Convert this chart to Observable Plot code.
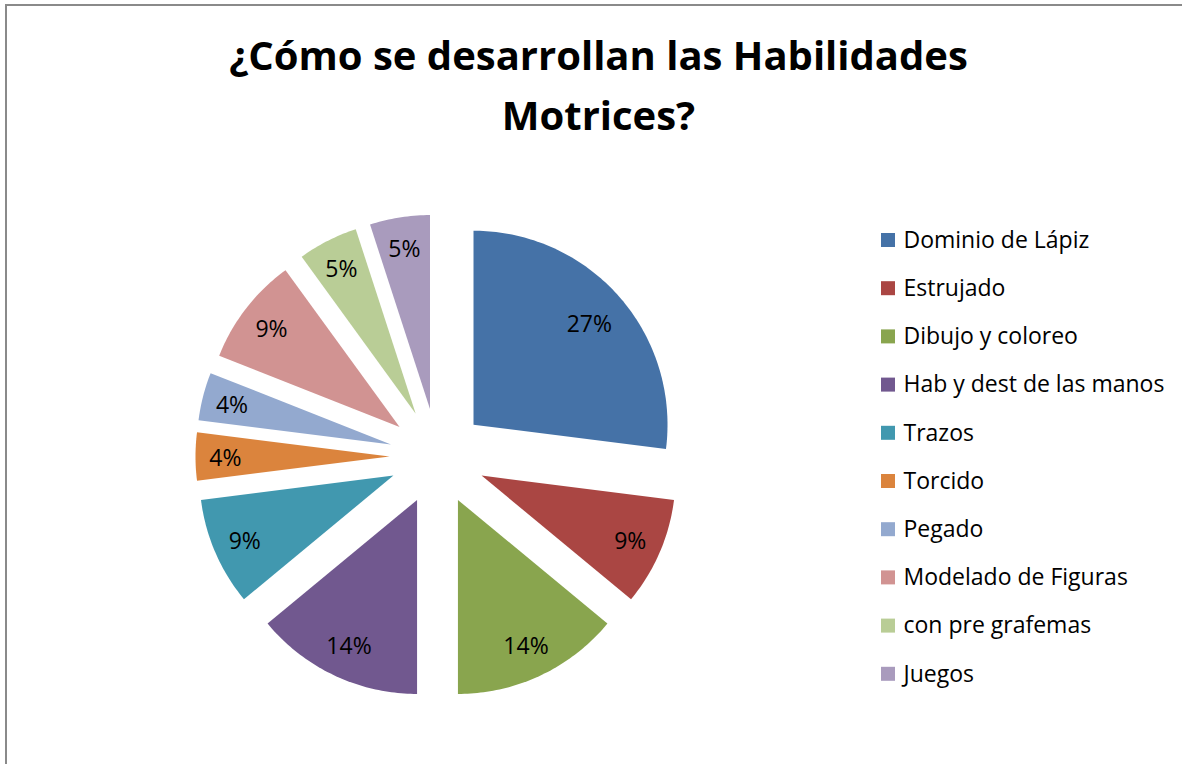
<!DOCTYPE html>
<html>
<head>
<meta charset="utf-8">
<script src="https://cdn.jsdelivr.net/npm/d3@7"></script>
<script src="https://cdn.jsdelivr.net/npm/@observablehq/plot@0.6"></script>
<style>
  html, body { margin: 0; padding: 0; background: #fff; }
  #wrap { position: relative; width: 1182px; height: 764px; overflow: hidden; }
  #border { position: absolute; left: 5px; top: 4px; width: 1300px; height: 900px;
            border-left: 2px solid #8a8a8a; border-top: 2px solid #8a8a8a; box-sizing: border-box; }
  #chart { position: absolute; left: 0; top: 0; }
</style>
</head>
<body>
<div id="wrap"><div id="border"></div><div id="chart"></div></div>
<script>
// ---- data ----
const categories = ["Dominio de Lápiz", "Estrujado", "Dibujo y coloreo", "Hab y dest de las manos", "Trazos", "Torcido", "Pegado", "Modelado de Figuras", "con pre grafemas", "Juegos"];
const values = [27, 9, 14, 14, 9, 4, 4, 9, 5, 5];
const colors = ["#4572A7", "#AA4643", "#89A54E", "#71588F", "#4198AF", "#DB843D", "#93A9CF", "#D19392", "#B9CD96", "#A99BBD"];
const titleLines = ["¿Cómo se desarrollan las Habilidades", "Motrices?"];

// ---- layout ----
const W = 1182, H = 764;
const cx = 437, cy = 456, R = 194, explode = 48;
const font = "'Open Sans', sans-serif";
const total = d3.sum(values);

const arcs = d3.pie().sort(null).value(d => d)(values);
const slices = [];
const labels = [];
arcs.forEach((a, i) => {
  const mid = (a.startAngle + a.endAngle) / 2;
  const ax = cx + explode * Math.sin(mid), ay = cy - explode * Math.cos(mid);
  const cat = categories[i];
  slices.push({cat, x: ax, y: ay});
  const n = Math.max(8, Math.ceil((a.endAngle - a.startAngle) * 60));
  for (let k = 0; k <= n; k++) {
    const t = a.startAngle + (a.endAngle - a.startAngle) * k / n;
    slices.push({cat, x: ax + R * Math.sin(t), y: ay - R * Math.cos(t)});
  }
  const lr = R * (0.855 - 0.22 * values[i] / total);
  labels.push({cat, text: values[i] + "%", x: ax + lr * Math.sin(mid), y: ay - lr * Math.cos(mid) + 2});
});

const legendRows = categories.map((cat, i) => ({cat, i, y: 240 + i * 48.2}));
const titleRows = titleLines.map((t, i) => ({t, y: 57 + i * 60}));

const chart = Plot.plot({
  width: W, height: H,
  margin: 0,
  x: {domain: [0, W], range: [0, W], axis: null},
  y: {domain: [0, H], range: [0, H], axis: null},
  color: {domain: categories, range: colors},
  style: {fontFamily: font, background: "transparent"},
  marks: [
    Plot.line(slices, {x: "x", y: "y", z: "cat", fill: "cat", stroke: null}),
    Plot.text(labels, {x: "x", y: "y", text: "text", fontSize: 23, fill: "#000"}),
    Plot.rect(legendRows, {x1: 881, x2: 895, y1: d => d.y - 7, y2: d => d.y + 7, fill: "cat"}),
    Plot.text(legendRows, {x: 903, y: "y", text: "cat", textAnchor: "start", fontSize: 23, fill: "#000"}),
    Plot.text(titleRows, {x: 598, y: "y", text: "t", fontSize: 40, fontWeight: "bold", fill: "#000"})
  ]
});
document.getElementById("chart").appendChild(chart);
</script>
</body>
</html>
